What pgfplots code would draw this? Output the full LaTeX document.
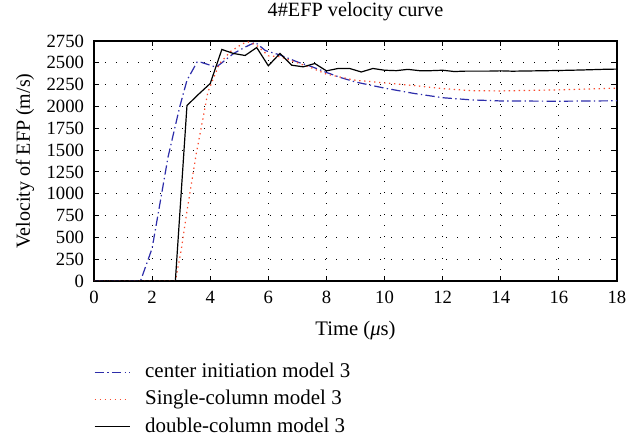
\documentclass[border=0pt]{standalone}
\usepackage{fontspec}
\setmainfont{Liberation Serif}
\usepackage{pgfplots}
\pgfplotsset{compat=1.18}
\definecolor{cblue}{RGB}{45,45,170}
\definecolor{cred}{RGB}{250,75,45}
\begin{document}
\begin{tikzpicture}[x=1pt,y=1pt]
\begin{axis}[
  scale only axis, width=392.25pt, height=180pt,
  xmin=0, xmax=18, ymin=0, ymax=2750,
  xtick={0,2,...,18}, ytick={0,250,...,2750},
  tick align=inside, xtick pos=both, ytick pos=both,
  major tick length=3.75pt,
  every tick/.style={black, line width=0.8pt},
  axis line style={black, line width=1pt},
  grid=major,
  major grid style={black, line width=0.75pt, dash pattern=on 0.75pt off 7.5pt},
  /pgf/number format/assume math mode=true,
  /pgf/number format/1000 sep={},
  tick label style={font=\fontsize{14}{16}\selectfont},
  xticklabel style={anchor=base, yshift=-16.5pt},
  yticklabel style={anchor=east, xshift=-4pt},
  title={4\#EFP velocity curve},
  title style={font=\fontsize{15.2}{18}\selectfont, at={(axis description cs:0.5,1)}, anchor=base, yshift=12pt},
  xlabel={Time (\textit{μ}s)},
  xlabel style={font=\fontsize{15.5}{18}\selectfont, at={(axis description cs:0.5,0)}, anchor=base, yshift=-41.25pt},
  ylabel={Velocity of EFP (m/s)},
  ylabel style={font=\fontsize{15}{18}\selectfont, at={(axis description cs:0,0.5)}, anchor=base, rotate=0, yshift=48pt},
  legend style={at={(axis description cs:0,0)}, anchor=north west, yshift=-61.5pt,
    draw=none, fill=none, inner sep=0pt, outer sep=0pt,
    font=\fontsize{15.7}{18}\selectfont,
    nodes={inner sep=0pt, text height=11pt, text depth=3pt},
    row sep=6.4pt,
    /tikz/every odd column/.style={column sep=11.25pt}},
  legend cell align=left,
  legend image code/.code={\draw[#1] (0pt,0pt) -- (26.25pt,0pt);},
]
\addplot[cblue, line width=0.9pt, dash pattern=on 7pt off 2.5pt on 1pt off 2.5pt] coordinates {
(0,0) (1.6,0) (2.0,374) (2.55,1423) (2.95,1995) (3.2,2300) (3.55,2510) (3.7,2505)
(4.2,2450) (4.4,2500) (4.8,2606) (5.2,2680) (5.55,2735) (5.9,2640) (6.4,2590)
(7.0,2510) (7.5,2455) (8.0,2390) (8.5,2330) (9.0,2280) (10.0,2210) (11.0,2150)
(12.0,2100) (13.0,2075) (14.0,2063) (16.0,2060) (18.0,2065)};
\addlegendentry{center initiation model 3}
\addplot[cred, line width=0.9pt, dash pattern=on 1pt off 2.75pt] coordinates {
(0,0) (2.8,0) (3.0,350) (3.2,800) (3.52,1460) (3.8,1950) (3.92,2166) (4.32,2491)
(4.7,2630) (5.12,2720) (5.3,2740) (5.6,2700) (6.0,2580) (6.4,2570) (7.0,2500)
(7.5,2440) (8.0,2370) (9.0,2300) (10.0,2270) (11.0,2240) (12.0,2205) (13.0,2180)
(14.0,2178) (16.0,2190) (18.0,2210)};
\addlegendentry{Single-column model 3}
\addplot[black, line width=0.9pt] coordinates {
(0,0) (2.8,0) (3.2,2011) (3.6,2140) (4.0,2263) (4.4,2653) (4.8,2607) (5.2,2584)
(5.6,2675) (6.0,2466) (6.4,2607) (6.8,2473) (7.2,2454) (7.6,2492) (8.0,2408)
(8.4,2435) (8.8,2435) (9.2,2395) (9.6,2435) (10.0,2415) (10.4,2410) (10.8,2425)
(11.2,2410) (11.6,2410) (12.0,2415) (12.4,2400) (12.8,2405) (13.2,2405) (13.6,2405)
(14.0,2408) (14.4,2404) (14.8,2406) (15.2,2408) (15.6,2410) (16.0,2412) (16.4,2415)
(16.8,2418) (17.2,2422) (17.6,2426) (18.0,2428)};
\addlegendentry{double-column model 3}
\end{axis}
\pgfresetboundingbox
\path (-70.5pt,-115.5pt) rectangle (406.5pt,210.75pt);
\end{tikzpicture}
\end{document}
